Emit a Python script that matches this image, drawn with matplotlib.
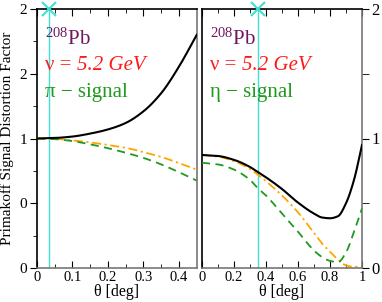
import matplotlib
matplotlib.use("Agg")
import matplotlib.pyplot as plt
import numpy as np

plt.rcParams['font.family'] = ['Liberation Serif', 'DejaVu Serif']
plt.rcParams['mathtext.fontset'] = 'custom'
plt.rcParams['mathtext.rm'] = 'Liberation Serif'
plt.rcParams['mathtext.it'] = 'Liberation Serif:italic'

# Left panel (pi signal)
theta_l = [0, 0.05, 0.1, 0.15, 0.2, 0.25, 0.3, 0.35, 0.4, 0.45]
black_l = [1.0, 1.004, 1.015, 1.038, 1.07, 1.12, 1.21, 1.35, 1.555, 1.80]
orange_l = [1.0, 0.997, 0.985, 0.97, 0.95, 0.928, 0.895, 0.858, 0.81, 0.76]
green_l = [1.0, 0.995, 0.98, 0.955, 0.925, 0.89, 0.85, 0.80, 0.74, 0.675]

# Right panel (eta signal)
theta_r = [0, 0.1, 0.2, 0.3, 0.35, 0.4, 0.5, 0.6, 0.7, 0.75, 0.8, 0.85, 0.9, 0.95, 1.0]
black_r = [0.873, 0.865, 0.835, 0.78, 0.74, 0.70, 0.61, 0.505, 0.42, 0.39, 0.384, 0.40, 0.50, 0.68, 0.95]
orange_r = [0.873, 0.86, 0.825, 0.765, 0.72, 0.67, 0.56, 0.43, 0.27, 0.19, 0.125, 0.065, 0.02, 0.01, 0.01]
green_r = [0.813, 0.80, 0.76, 0.68, 0.615, 0.56, 0.42, 0.28, 0.135, 0.085, 0.055, 0.045, 0.12, 0.28, 0.46]

cut_l = 0.035
cut_r = 0.35

ytick_vals = [0, 0.5, 1.0, 1.5, 2.0]
ytick_labels_l = ['0', '0', '1', '2', '2']

purple = '#6e1760'
red = '#ff1a1a'
green = '#1f9a1f'
orange = '#ffa500'
cyan = '#40e0d0'
gray = '#777777'

fig = plt.figure(figsize=(3.82, 3.02), dpi=100)
axl = fig.add_axes([37/382, 34/302, 159.7/382, 259/302])
axr = fig.add_axes([202/382, 34/302, 160/382, 259/302])


def smooth(x, y, n=200):
    x = np.asarray(x, float)
    y = np.asarray(y, float)
    xs = np.linspace(x[0], x[-1], n)
    h = np.diff(x)
    d = np.diff(y) / h
    m = np.zeros_like(y)
    m[0] = d[0]
    m[-1] = d[-1]
    for i in range(1, len(y) - 1):
        if d[i-1] * d[i] <= 0:
            m[i] = 0
        else:
            w1 = 2*h[i] + h[i-1]
            w2 = h[i] + 2*h[i-1]
            m[i] = (w1 + w2) / (w1/d[i-1] + w2/d[i])
    idx = np.clip(np.searchsorted(x, xs) - 1, 0, len(x) - 2)
    t = (xs - x[idx]) / h[idx]
    h00 = 2*t**3 - 3*t**2 + 1
    h10 = t**3 - 2*t**2 + t
    h01 = -2*t**3 + 3*t**2
    h11 = t**3 - t**2
    ys = h00*y[idx] + h10*h[idx]*m[idx] + h01*y[idx+1] + h11*h[idx]*m[idx+1]
    return xs, ys


for ax, th, bk, orr, gr, cut, sig in [
        (axl, theta_l, black_l, orange_l, green_l, cut_l, 'π − signal'),
        (axr, theta_r, black_r, orange_r, green_r, cut_r, 'η − signal')]:
    ax.axvline(cut, color=cyan, lw=1.0, zorder=1)
    ax.plot([cut], [2.0], marker='x', color=cyan, ms=10, mew=1.5, clip_on=False, zorder=5)
    xs, ys = smooth(th, orr)
    ax.plot(xs, ys, color=orange, lw=1.3, ls=(0, (5, 2, 1.2, 2)), zorder=2)
    xs, ys = smooth(th, gr)
    ax.plot(xs, ys, color=green, lw=1.3, ls=(0, (4.5, 3)), zorder=3)
    xs, ys = smooth(th, bk)
    ax.plot(xs, ys, color='black', lw=1.5, zorder=4)
    ax.set_ylim(0, 2)
    ax.set_xlabel('θ [deg]', fontsize=11.5, labelpad=0)
    ax.text(0.05, 0.86, r'$^{208}$Pb', transform=ax.transAxes, color=purple, fontsize=15)
    t1 = ax.text(0.05, 0.765, 'ν = ', transform=ax.transAxes, color=red, fontsize=15)
    ax.annotate('5.2 GeV', xy=(1, 0), xycoords=t1, xytext=(0, 0), textcoords='offset points',
                ha='left', va='bottom', color=red, fontsize=15, fontstyle='italic')
    ax.text(0.05, 0.66, sig, transform=ax.transAxes, color=green, fontsize=15)
    ax.spines['right'].set_color(gray)
    ax.spines['bottom'].set_color(gray)
    for s in ax.spines.values():
        s.set_linewidth(1.2)

axl.set_xlim(0, 0.45)
axl.set_xticks([0, 0.1, 0.2, 0.3, 0.4])
axl.set_xticklabels(['0', '0.1', '0.2', '0.3', '0.4'])
axl.set_xticks(np.arange(0.05, 0.45, 0.1), minor=True)
axl.set_yticks(ytick_vals)
axl.set_yticklabels(ytick_labels_l)
axl.set_yticks([0.25, 0.75, 1.25, 1.75], minor=True)
axl.tick_params(axis='x', which='both', direction='in', top=True, labelsize=10.5, pad=2)
axl.tick_params(axis='x', which='major', length=5)
axl.tick_params(axis='x', which='minor', length=3)
axl.tick_params(axis='y', which='both', direction='out', right=False, labelsize=11, pad=2)
axl.tick_params(axis='y', which='major', length=5)
axl.tick_params(axis='y', which='minor', length=3)
axl.set_ylabel('Primakoff Signal Distortion Factor', fontsize=11, labelpad=4)

axr.set_xlim(0, 1)
axr.set_xticks([0, 0.2, 0.4, 0.6, 0.8, 1.0])
axr.set_xticklabels(['0', '0.2', '0.4', '0.6', '0.8', '1'])
axr.set_xticks(np.arange(0.1, 1.0, 0.2), minor=True)
axr.tick_params(axis='x', which='both', direction='in', top=True, labelsize=10.5, pad=2)
axr.tick_params(axis='x', which='major', length=5)
axr.tick_params(axis='x', which='minor', length=3)
axr.yaxis.tick_right()
axr.set_yticks([0, 1, 2])
axr.set_yticklabels(['0', '1', '2'])
axr.set_yticks([0.5, 1.5], minor=True)
axr.tick_params(axis='y', which='both', direction='out', left=False, right=True,
                labelleft=False, labelright=True, labelsize=12, pad=2)
axr.tick_params(axis='y', which='major', length=5)
axr.tick_params(axis='y', which='minor', length=5)

fig.savefig('out.png', dpi=100)
